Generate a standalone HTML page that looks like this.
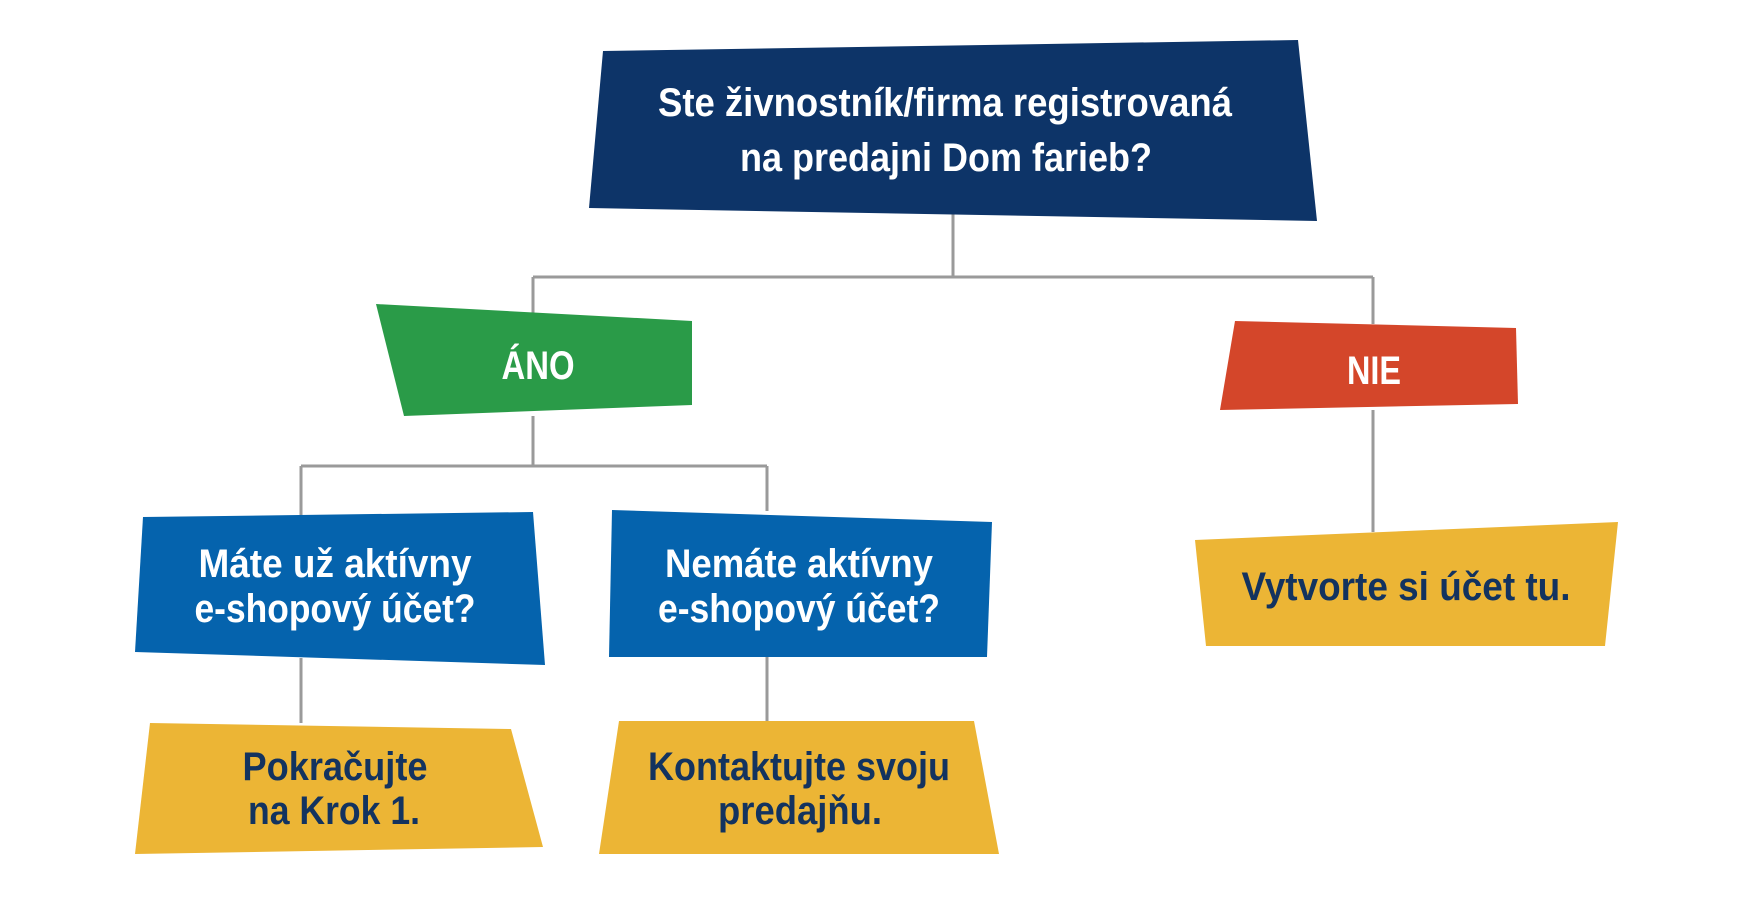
<!DOCTYPE html>
<html><head><meta charset="utf-8"><style>
html,body{margin:0;padding:0;background:#fff;width:1750px;height:900px;overflow:hidden}
text{font-family:"Liberation Sans",sans-serif;font-weight:bold;text-anchor:middle}
</style></head><body>
<svg width="1750" height="900" viewBox="0 0 1750 900" xmlns="http://www.w3.org/2000/svg">
<g stroke="#9a9a9a" stroke-width="3" fill="none">
<path d="M953 212V277M533 277H1373M533 277V318M1373 277V324"/>
<path d="M533 416V466M301 466H767M301 466V517M767 466V511"/>
<path d="M301 658V723M767 657V721M1373 410V532"/>
</g>
<polygon points="603,51 1298,40 1317,221 589,208" fill="#0d3468"/>
<polygon points="376,304 692,321 692,405 404,416" fill="#2a9b48"/>
<polygon points="1235,321 1516,328 1518,404 1220,410" fill="#d4462a"/>
<polygon points="143,517 533,512 545,665 135,652" fill="#0563ad"/>
<polygon points="612,510 992,522 987,657 609,657" fill="#0563ad"/>
<polygon points="150,723 511,729 543,847 135,854" fill="#ecb535"/>
<polygon points="619,721 974,721 999,854 599,854" fill="#ecb535"/>
<polygon points="1195,540 1618,522 1605,646 1206,646" fill="#ecb535"/>
<g font-size="40" fill="#fff">
<text x="945" y="116" textLength="574" lengthAdjust="spacingAndGlyphs">Ste živnostník/firma registrovaná</text>
<text x="946" y="171" textLength="412" lengthAdjust="spacingAndGlyphs">na predajni Dom farieb?</text>
<text x="538" y="379" textLength="73" lengthAdjust="spacingAndGlyphs">ÁNO</text>
<text x="1374" y="384" textLength="54" lengthAdjust="spacingAndGlyphs">NIE</text>
<text x="335" y="577" textLength="273" lengthAdjust="spacingAndGlyphs">Máte už aktívny</text>
<text x="335" y="622" textLength="281" lengthAdjust="spacingAndGlyphs">e-shopový účet?</text>
<text x="799" y="577" textLength="268" lengthAdjust="spacingAndGlyphs">Nemáte aktívny</text>
<text x="799" y="622" textLength="282" lengthAdjust="spacingAndGlyphs">e-shopový účet?</text>
</g>
<g font-size="40" fill="#13335f">
<text x="335" y="780" textLength="185" lengthAdjust="spacingAndGlyphs">Pokračujte</text>
<text x="334" y="824" textLength="172" lengthAdjust="spacingAndGlyphs">na Krok 1.</text>
<text x="799" y="780" textLength="302" lengthAdjust="spacingAndGlyphs">Kontaktujte svoju</text>
<text x="800" y="824" textLength="164" lengthAdjust="spacingAndGlyphs">predajňu.</text>
<text x="1406" y="600" textLength="329" lengthAdjust="spacingAndGlyphs">Vytvorte si účet tu.</text>
</g>
</svg>
</body></html>
